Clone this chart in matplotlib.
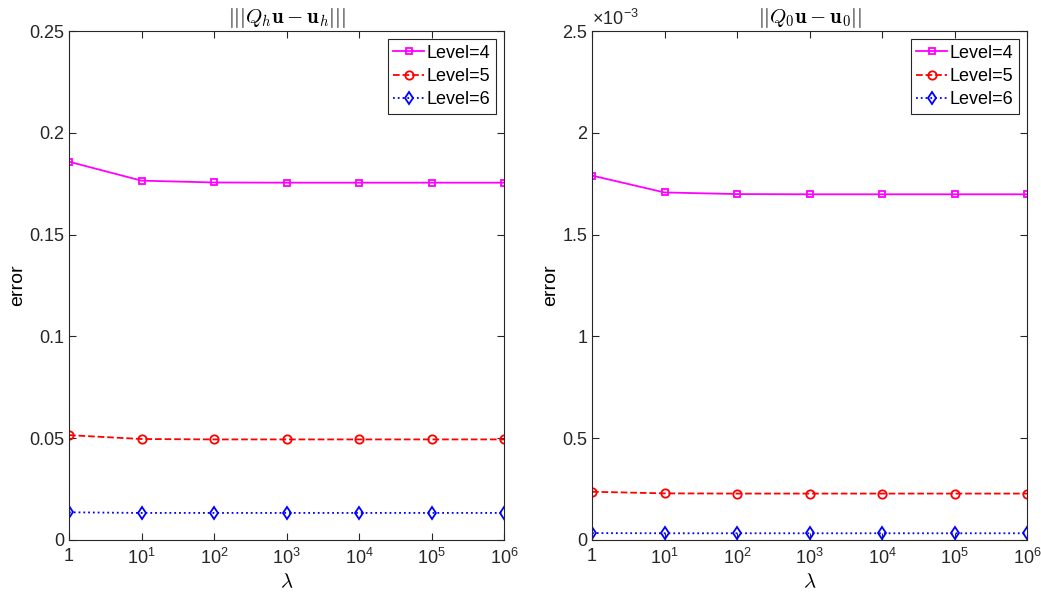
import matplotlib
matplotlib.use("Agg")
import matplotlib.pyplot as plt
from matplotlib.ticker import FixedLocator, FuncFormatter, NullLocator

plt.rcParams["font.family"] = ["Liberation Sans", "DejaVu Sans"]
plt.rcParams["mathtext.fontset"] = "cm"

lam = [1, 1e1, 1e2, 1e3, 1e4, 1e5, 1e6]
xtick_labels = ["1"] + [r"$\mathregular{10^{%d}}$" % k for k in range(1, 7)]
levels = ["Level=4", "Level=5", "Level=6"]

# energy-norm error |||Q_h u - u_h|||
err_h = [
    [0.1858, 0.1765, 0.1756, 0.1755, 0.1755, 0.1755, 0.1755],
    [0.0515, 0.0496, 0.0494, 0.0494, 0.0494, 0.0494, 0.0494],
    [0.0136, 0.0133, 0.0133, 0.0133, 0.0133, 0.0133, 0.0133],
]
# ||Q_0 u - u_0||
err_0 = [
    [1.790e-3, 1.707e-3, 1.699e-3, 1.698e-3, 1.698e-3, 1.698e-3, 1.698e-3],
    [0.237e-3, 0.229e-3, 0.228e-3, 0.228e-3, 0.228e-3, 0.228e-3, 0.228e-3],
    [0.034e-3, 0.033e-3, 0.033e-3, 0.033e-3, 0.033e-3, 0.033e-3, 0.033e-3],
]

styles = [
    dict(color="#ff00ff", linestyle="-", marker="s", markersize=5),
    dict(color="#ff0000", linestyle="--", marker="o", markersize=6),
    dict(color="#0000ff", linestyle=":", marker="d", markersize=6),
]

fig = plt.figure(figsize=(10.41, 6.01), dpi=100)
ax1 = fig.add_axes([69 / 1041, 61 / 601, 435 / 1041, 509 / 601])
ax2 = fig.add_axes([592 / 1041, 61 / 601, 435 / 1041, 509 / 601])


def draw(ax, data, title, ymax, yticks, yfmt):
    for vals, lab, st in zip(data, levels, styles):
        ax.plot(lam, vals, label=lab, linewidth=1.3,
                markerfacecolor="none", markeredgewidth=1.3, **st)
    ax.set_xscale("log")
    ax.set_xlim(1, 1e6)
    ax.set_ylim(0, ymax)
    ax.xaxis.set_major_locator(FixedLocator(lam))
    ax.xaxis.set_minor_locator(NullLocator())
    ax.set_xticklabels(xtick_labels)
    ax.set_yticks(yticks)
    ax.yaxis.set_major_formatter(FuncFormatter(yfmt))
    ax.tick_params(direction="in", top=True, right=True, labelsize=13,
                   length=5, width=0.8, colors="#262626")
    ax.tick_params(axis="x", pad=6)
    for sp in ax.spines.values():
        sp.set_color("#262626")
        sp.set_linewidth(0.8)
    ax.set_xlabel(r"$\lambda$", fontsize=15, labelpad=3)
    ax.set_ylabel("error", fontsize=14, labelpad=2)
    ax.set_title(title, fontsize=15, pad=6)
    leg = ax.legend(loc="upper right", fontsize=13, fancybox=False,
                    framealpha=1, edgecolor="#262626", borderaxespad=0.45,
                    handlelength=1.7, handletextpad=0.15, borderpad=0.3,
                    labelspacing=0.35)
    leg.get_frame().set_linewidth(0.8)


draw(ax1, err_h, r"$|||Q_h\mathbf{u}-\mathbf{u}_h|||$", 0.25,
     [0, 0.05, 0.1, 0.15, 0.2, 0.25], lambda v, p: f"{v:g}")
draw(ax2, err_0, r"$||Q_0\mathbf{u}-\mathbf{u}_0||$", 2.5e-3,
     [0, 0.5e-3, 1e-3, 1.5e-3, 2e-3, 2.5e-3], lambda v, p: f"{v * 1e3:g}")
ax2.text(0.0, 1.003, "\u00d710$^{\\mathregular{-3}}$", transform=ax2.transAxes,
         fontsize=13, color="#262626", ha="left", va="bottom")

fig.savefig("out.png", dpi=100)
